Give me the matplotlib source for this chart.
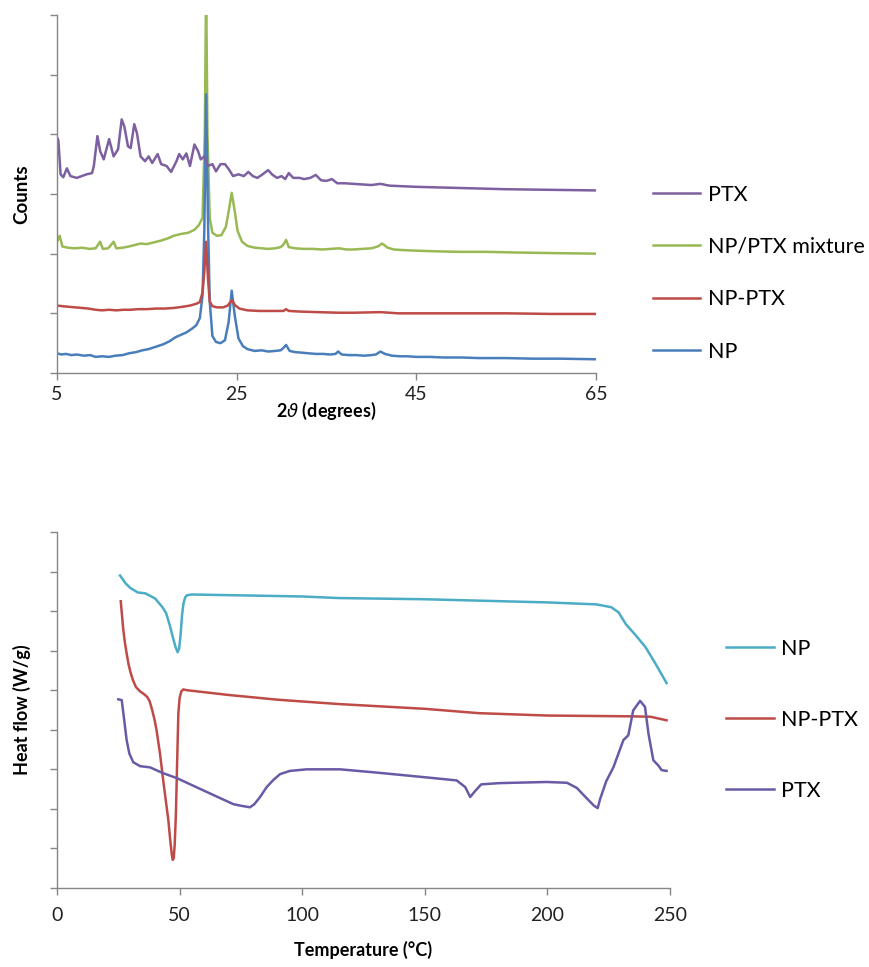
import matplotlib.pyplot as plt

plt.rcParams['font.family'] = ['Lato', 'DejaVu Sans']

# ---- XRD data (2theta, relative counts in tick units) ----
np_2t = [5, 5.5, 6, 6.6, 7.2, 8, 8.7, 9.3, 10, 10.8, 11.5, 12.3, 13, 13.8, 14.5, 15.2, 16, 16.8,
         17.5, 18.2, 18.8, 19.4, 20, 20.5, 20.9, 21.2, 21.4, 21.6, 21.8, 22.0, 22.3, 22.7, 23.2,
         23.7, 24.1, 24.45, 24.8, 25.2, 25.7, 26.2, 27, 27.8, 28.5, 29.3, 29.9, 30.2, 30.5, 30.9,
         31.5, 32.3, 33, 33.8, 34.6, 35.4, 36.0, 36.3, 36.7, 37.5, 38.3, 39.2, 40, 40.5, 41.0,
         41.5, 42.3, 43.2, 44, 45, 46.5, 48, 50, 52, 55, 58, 61, 65]
np_cnt = [0.33, 0.31, 0.32, 0.30, 0.31, 0.29, 0.30, 0.27, 0.28, 0.27, 0.29, 0.30, 0.33, 0.35, 0.38,
          0.40, 0.44, 0.48, 0.53, 0.60, 0.64, 0.68, 0.74, 0.80, 0.92, 1.3, 2.4, 4.67, 2.6, 1.2,
          0.62, 0.52, 0.50, 0.55, 0.85, 1.38, 0.95, 0.58, 0.45, 0.40, 0.37, 0.38, 0.36, 0.37,
          0.38, 0.42, 0.47, 0.37, 0.35, 0.34, 0.33, 0.32, 0.32, 0.31, 0.32, 0.36, 0.31, 0.30,
          0.30, 0.29, 0.30, 0.31, 0.36, 0.32, 0.29, 0.28, 0.28, 0.27, 0.27, 0.26, 0.26, 0.25,
          0.25, 0.24, 0.24, 0.23]

nptx_2t = [5, 5.6, 6.3, 7, 7.8, 8.5, 9.3, 10, 10.8, 11.6, 12.4, 13.2, 14, 15, 16, 17, 18, 19,
           19.8, 20.5, 20.9, 21.2, 21.4, 21.6, 21.8, 22.0, 22.3, 22.8, 23.5, 24.0, 24.3, 24.5,
           24.8, 25.3, 26.2, 27.5, 29, 30.2, 30.5, 30.8, 32, 34, 36.4, 38, 41, 43, 45, 50, 55,
           60, 65]
nptx_cnt = [1.13, 1.12, 1.11, 1.10, 1.09, 1.08, 1.06, 1.05, 1.06, 1.05, 1.06, 1.06, 1.07, 1.07,
            1.08, 1.08, 1.09, 1.11, 1.13, 1.16, 1.19, 1.35, 1.7, 2.2, 1.6, 1.2, 1.12, 1.10, 1.10,
            1.13, 1.19, 1.22, 1.14, 1.08, 1.05, 1.04, 1.04, 1.04, 1.07, 1.04, 1.03, 1.02, 1.01,
            1.01, 1.02, 1.00, 1.00, 1.00, 1.00, 0.99, 0.99]

mix_2t = [5, 5.3, 5.6, 6.2, 7, 7.8, 8.6, 9.3, 9.8, 10.1, 10.7, 11.3, 11.6, 12.3, 13, 13.8, 14.3,
          15, 15.8, 16.6, 17.4, 18, 18.8, 19.6, 20.3, 20.8, 21.2, 21.45, 21.6, 21.75, 22.0, 22.3,
          22.8, 23.3, 23.8, 24.1, 24.45, 24.8, 25.1, 25.6, 26.2, 27, 27.8, 28.5, 29.3, 29.9,
          30.2, 30.5, 30.8, 31.5, 32.5, 33.5, 34.5, 35.5, 36.4, 37.2, 38.0, 39, 40, 40.7, 41.2,
          41.8, 42.5, 43.5, 45, 47, 50, 53, 56, 60, 65]
mix_cnt = [2.20, 2.30, 2.12, 2.10, 2.09, 2.10, 2.08, 2.09, 2.20, 2.08, 2.09, 2.20, 2.09, 2.10,
           2.12, 2.15, 2.17, 2.16, 2.19, 2.22, 2.26, 2.30, 2.33, 2.35, 2.40, 2.48, 2.6, 4.0, 6.5,
           4.0, 2.6, 2.35, 2.30, 2.31, 2.45, 2.70, 3.02, 2.70, 2.38, 2.20, 2.13, 2.10, 2.09, 2.08,
           2.09, 2.11, 2.15, 2.23, 2.11, 2.09, 2.08, 2.08, 2.07, 2.08, 2.09, 2.07, 2.07, 2.08,
           2.09, 2.12, 2.17, 2.10, 2.07, 2.06, 2.05, 2.04, 2.03, 2.03, 2.02, 2.01, 2.00]

ptx_2t = [5.0, 5.15, 5.4, 5.7, 6.1, 6.5, 7.2, 8.3, 8.9, 9.1, 9.5, 9.8, 10.2, 10.8, 11.3, 11.8,
          12.2, 12.5, 12.9, 13.2, 13.6, 13.9, 14.3, 14.8, 15.2, 15.6, 16.2, 16.6, 17.2, 17.7,
          18.3, 18.6, 19.0, 19.4, 19.8, 20.3, 20.7, 21.0, 21.4, 21.8, 22.3, 22.7, 23.2, 23.7,
          24.1, 24.6, 25.2, 25.8, 26.3, 26.8, 27.3, 27.8, 28.5, 29.0, 29.5, 30.0, 30.4, 30.8,
          31.3, 32.0, 32.5, 33.2, 33.8, 34.4, 35.0, 35.6, 36.2, 37.0, 38.0, 39.0, 40.0, 41.0,
          42.0, 43.5, 45.0, 47.5, 50.0, 55.0, 60.0, 65.0]
ptx_cnt = [3.95, 3.9, 3.33, 3.28, 3.43, 3.30, 3.27, 3.33, 3.35, 3.47, 3.97, 3.72, 3.58, 3.92, 3.63, 3.75,
           4.25, 4.13, 3.80, 3.77, 4.17, 4.02, 3.63, 3.55, 3.63, 3.52, 3.67, 3.50, 3.47, 3.37,
           3.55, 3.67, 3.58, 3.68, 3.47, 3.83, 3.72, 3.58, 3.63, 3.47, 3.50, 3.38, 3.50, 3.50,
           3.42, 3.30, 3.33, 3.30, 3.37, 3.30, 3.27, 3.32, 3.40, 3.32, 3.27, 3.30, 3.25, 3.35,
           3.27, 3.27, 3.25, 3.27, 3.32, 3.23, 3.22, 3.25, 3.18, 3.18, 3.17, 3.16, 3.15, 3.17,
           3.14, 3.13, 3.12, 3.11, 3.10, 3.08, 3.07, 3.06]

xrd_ticks = [5, 25, 45, 65]

# ---- DSC data (temperature in C, relative heat flow in tick units) ----
dsc_np_t = [25.7, 28, 30, 33, 36, 40, 43, 44.5, 46, 47.2, 48.3, 49.2, 49.8, 50.4, 51, 51.6, 52.3,
            53, 55, 100, 115, 150, 200, 220, 226, 229, 232, 236, 240, 244, 248.6]
dsc_np_q = [7.90, 7.70, 7.58, 7.47, 7.45, 7.32, 7.10, 6.95, 6.64, 6.35, 6.10, 5.96, 6.05, 6.40,
            6.90, 7.20, 7.35, 7.40, 7.42, 7.37, 7.33, 7.30, 7.22, 7.17, 7.10, 6.97, 6.67, 6.39,
            6.09, 5.68, 5.18]

dsc_nptx_t = [26, 26.5, 27, 27.7, 28.4, 29.2, 30, 31, 32.2, 33.9, 35.5, 36.8, 37.8, 38.8, 39.8,
              40.6, 42, 43.3, 44.5, 45.4, 46.2, 46.8, 47.2, 47.6, 48.0, 48.5, 49.0, 49.5, 50.0,
              50.7, 51.5, 53, 70, 90, 115, 150, 172, 200, 234, 242, 248.6]
dsc_nptx_q = [7.25, 6.9, 6.55, 6.2, 5.93, 5.65, 5.45, 5.25, 5.08, 4.97, 4.90, 4.83, 4.72, 4.50,
              4.25, 3.99, 3.40, 2.73, 2.15, 1.72, 1.20, 0.85, 0.71, 0.75, 1.10, 1.89, 3.20, 4.42,
              4.80, 4.97, 5.02, 5.00, 4.88, 4.76, 4.65, 4.53, 4.42, 4.36, 4.34, 4.33, 4.24]

dsc_ptx_t = [25, 26.4, 27.3, 28.4, 29.5, 31.1, 33.9, 37.9, 43.4, 48.8, 61, 71.9, 75, 78.7, 80.5,
             82.8, 85.5, 88.2, 91, 95, 101.8, 115.4, 130, 150, 163, 166.5, 168.5, 170.5, 173, 180,
             186, 199.7, 208, 212, 216, 219, 220.5, 221.5, 224, 226.9, 231, 233, 235, 237.8,
             239.8, 241.2, 243.2, 245.2, 246.6, 248.6]
dsc_ptx_q = [4.77, 4.75, 4.30, 3.74, 3.40, 3.18, 3.08, 3.05, 2.90, 2.78, 2.43, 2.12, 2.08, 2.04,
             2.12, 2.30, 2.55, 2.73, 2.88, 2.96, 3.00, 3.00, 2.92, 2.80, 2.72, 2.55, 2.30, 2.45,
             2.62, 2.65, 2.66, 2.68, 2.66, 2.53, 2.27, 2.08, 2.02, 2.25, 2.70, 3.05, 3.74, 3.86,
             4.49, 4.73, 4.58, 3.91, 3.23, 3.10, 2.98, 2.96]

dsc_ticks = [0, 50, 100, 150, 200, 250]

C_BLUE = '#4a7ebb'
C_RED = '#be4b48'
C_GREEN = '#98b954'
C_PURPLE = '#7d60a0'
C_CYAN = '#4bacc6'
C_PTX2 = '#6a5aa6'
C_AXIS = '#868686'


def style_axes(ax, pad):
    for side in ['top', 'right']:
        ax.spines[side].set_visible(False)
    for side in ['left', 'bottom']:
        ax.spines[side].set_color(C_AXIS)
        ax.spines[side].set_linewidth(1.0)
    ax.tick_params(axis='both', direction='out', length=5, width=1.0, color=C_AXIS,
                   labelsize=14, labelcolor='#222222')
    ax.tick_params(axis='x', pad=pad)
    ax.tick_params(axis='y', labelleft=False)


fig = plt.figure(figsize=(8.7, 9.67), dpi=100)

# ---- top: XRD ----
ax1 = fig.add_axes([57 / 870, 1 - 373 / 967, (596 - 57) / 870, (373 - 15) / 967])
ax1.plot(mix_2t, mix_cnt, color=C_GREEN, lw=1.8, label='NP/PTX mixture')
ax1.plot(np_2t, np_cnt, color=C_BLUE, lw=1.8, label='NP')
ax1.plot(nptx_2t, nptx_cnt, color=C_RED, lw=1.8, label='NP-PTX')
ax1.plot(ptx_2t, ptx_cnt, color=C_PURPLE, lw=1.8, label='PTX')
ax1.set_xlim(5, 65)
ax1.set_ylim(0, 6)
ax1.set_xticks(xrd_ticks)
ax1.set_yticks(range(0, 7))
style_axes(ax1, 4)
ax1.set_ylabel('Counts', fontsize=13.5, fontweight='bold', labelpad=14)
ax1.set_xlabel('2$\\vartheta$ (degrees)', fontsize=13, fontweight='bold', labelpad=-2)
h, l = ax1.get_legend_handles_labels()
order = [3, 0, 2, 1]
ax1.legend([h[i] for i in order], [l[i] for i in order], loc='center left',
           bbox_to_anchor=(1.07, 0.279), frameon=False, fontsize=15.5,
           handlelength=2.2, handletextpad=0.35, labelspacing=1.5)

# ---- bottom: DSC ----
ax2 = fig.add_axes([57 / 870, 1 - 888 / 967, (670 - 57) / 870, (888 - 532) / 967])
ax2.plot(dsc_np_t, dsc_np_q, color=C_CYAN, lw=1.8, label='NP')
ax2.plot(dsc_nptx_t, dsc_nptx_q, color=C_RED, lw=1.8, label='NP-PTX')
ax2.plot(dsc_ptx_t, dsc_ptx_q, color=C_PTX2, lw=1.8, label='PTX')
ax2.set_xlim(0, 250)
ax2.set_ylim(0, 9)
ax2.set_xticks(dsc_ticks)
ax2.set_yticks(range(0, 10))
style_axes(ax2, 9)
ax2.set_ylabel('Heat flow (W/g)', fontsize=13, fontweight='bold', labelpad=14)
ax2.set_xlabel('Temperature (°C)', fontsize=13, fontweight='bold', labelpad=12)
ax2.legend(loc='center left', bbox_to_anchor=(1.06, 0.472), frameon=False, fontsize=15.5,
           handlelength=2.2, handletextpad=0.35, labelspacing=2.37)

fig.savefig('out.png', dpi=100)
